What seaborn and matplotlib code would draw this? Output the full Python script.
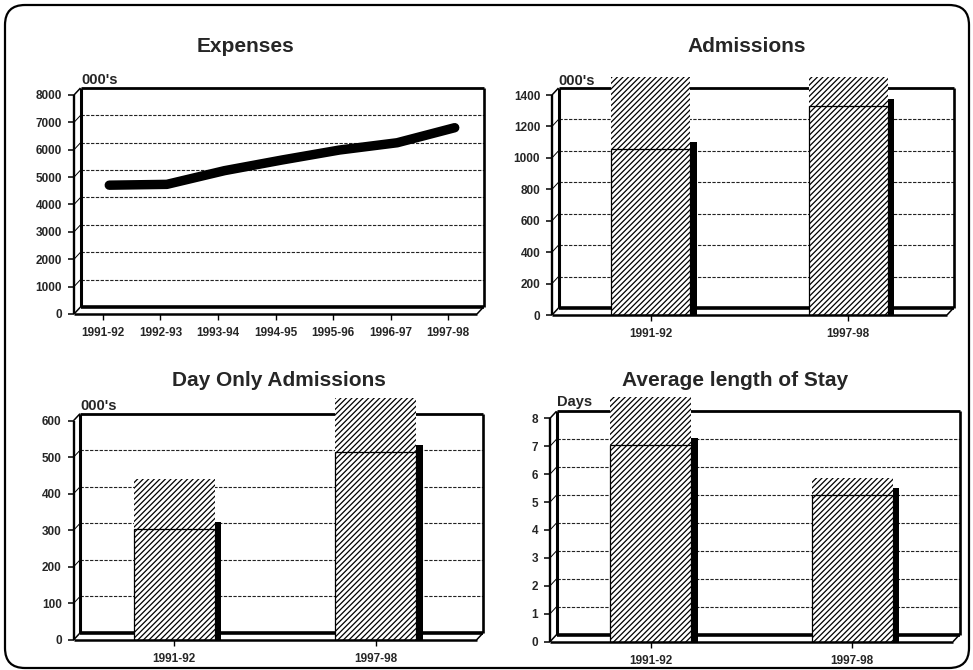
import numpy as np
import matplotlib
matplotlib.use("Agg")
import matplotlib.pyplot as plt
from matplotlib.patches import Rectangle, FancyBboxPatch
from matplotlib.transforms import ScaledTranslation, IdentityTransform
import seaborn as sns

# ---- data -------------------------------------------------------------
years = ["1991-92", "1992-93", "1993-94", "1994-95", "1995-96", "1996-97", "1997-98"]
expenses = [4450, 4480, 4980, 5370, 5735, 6000, 6550]

bar_years = ["1991-92", "1997-98"]
admissions = [1055, 1328]
day_only = [303, 513]
avg_stay = [7.04, 5.26]

# hatched top faces of the 3-D columns (value units)
admissions_top = [470, 200]
day_only_top = [137, 150]
avg_stay_top = [1.8, 0.6]

titles = ["Expenses", "Admissions", "Day Only Admissions", "Average length of Stay"]
unit_labels = ["000's", "000's", "000's", "Days"]
expense_ticks = [0, 1000, 2000, 3000, 4000, 5000, 6000, 7000, 8000]
admission_ticks = [0, 200, 400, 600, 800, 1000, 1200, 1400]
day_only_ticks = [0, 100, 200, 300, 400, 500, 600]
stay_ticks = [0, 1, 2, 3, 4, 5, 6, 7, 8]

# ---- style ------------------------------------------------------------
sns.set_style("white")
plt.rcParams["font.family"] = ["Liberation Sans", "DejaVu Sans"]
plt.rcParams["font.weight"] = "bold"
plt.rcParams["hatch.linewidth"] = 0.9
HATCH = "//////"

W, H = 973, 670
DX, DY = 6.5, 7.0          # depth of the 3-D box, pixels
fig = plt.figure(figsize=(W / 100, H / 100), dpi=100)
fig.patch.set_facecolor("white")


def panel(left, right, y0, ytop, clip, ticks, ncat):
    """Axes whose data frame is the front face of a 3-D box."""
    tmax = ticks[-1]
    ax = fig.add_axes([left / W, (H - y0) / H, (right - left) / W, (y0 - clip) / H])
    ymax = tmax * (y0 - clip) / (y0 - ytop)
    dxd = DX * ncat / (right - left)
    dyd = DY * tmax / (y0 - ytop)
    return ax, ymax, dxd, dyd


def draw_box(ax, ticks, ncat, ymax, dxd, dyd):
    tmax = ticks[-1]
    xmin, xmax = -0.5, ncat - 0.5
    kw = dict(color="black", clip_on=False, solid_capstyle="butt")
    # back wall
    ax.add_patch(Rectangle((xmin + dxd, dyd), xmax - xmin, tmax,
                           facecolor="white", edgecolor="none", zorder=0.5, clip_on=False))
    for t in ticks[1:-1]:
        ax.plot([xmin + dxd, xmax + dxd], [t + dyd, t + dyd], lw=0.8,
                linestyle=(0, (3, 1.3)), color="#222222", zorder=1, clip_on=False)
        ax.plot([xmin, xmin + dxd], [t, t + dyd], lw=0.7, zorder=1, **kw)
    ax.plot([xmin + dxd, xmax + dxd], [tmax + dyd, tmax + dyd], lw=2.0, zorder=1.2, **kw)
    ax.plot([xmin + dxd, xmin + dxd], [dyd, tmax + dyd], lw=2.2, zorder=1.2, **kw)
    ax.plot([xmax + dxd, xmax + dxd], [dyd, tmax + dyd], lw=1.9, zorder=1.2, **kw)
    # left wall
    ax.plot([xmin, xmin], [0, tmax], lw=1.7, zorder=1.3, **kw)
    ax.plot([xmin, xmin + dxd], [tmax, tmax + dyd], lw=1.1, zorder=1.3, **kw)
    # floor
    ax.plot([xmin + dxd, xmax + dxd], [dyd, dyd], lw=2.6, zorder=2, **kw)
    ax.plot([xmin, xmin + dxd], [0, dyd], lw=1.1, zorder=2, **kw)
    ax.plot([xmax, xmax + dxd], [0, dyd], lw=1.1, zorder=2, **kw)
    ax.plot([xmin, xmax], [0, 0], lw=1.8, zorder=4, **kw)

    ax.set_xlim(xmin, xmax)
    ax.set_ylim(0, ymax)
    ax.set_yticks(ticks)
    ax.set_yticklabels([f"{t:g}" for t in ticks])
    ax.set_xlabel("")
    ax.set_ylabel("")
    for s in ax.spines.values():
        s.set_visible(False)
    ax.set_facecolor("none")
    ax.tick_params(axis="y", left=True, direction="out", length=4, width=1.1,
                   pad=4.5, labelsize=8.5, color="black")
    ax.tick_params(axis="x", bottom=True, direction="out", length=4, width=1.0,
                   pad=5.5, labelsize=8.5, color="black")


def column_panel(left, right, y0, ytop, clip, ticks, cats, vals, tops):
    n = len(cats)
    ax, ymax, dxd, dyd = panel(left, right, y0, ytop, clip, ticks, n)
    sns.barplot(x=cats, y=vals, ax=ax, width=0.4, color="white", saturation=1,
                edgecolor="black", linewidth=0.9, hatch=HATCH, errorbar=None, zorder=3)
    pos = np.arange(n)
    # top faces
    ax.bar(pos, tops, bottom=vals, width=0.4, color="white", edgecolor="black",
           linewidth=0, hatch=HATCH, zorder=2.9)
    # dark side faces
    ax.bar(pos + 0.2, [v + dyd for v in vals], width=dxd, align="edge",
           color="black", edgecolor="black", linewidth=0, zorder=3.1)
    draw_box(ax, ticks, n, ymax, dxd, dyd)
    ax.set_xticks(pos)
    ax.set_xticklabels(cats)
    return ax


# ---- Expenses ---------------------------------------------------------
ax1, ymax1, dxd1, dyd1 = panel(74, 477, 314, 95, 80, expense_ticks, len(years))
sns.lineplot(x=years, y=expenses, ax=ax1, color="black", linewidth=6.8, sort=False)
ln = ax1.lines[-1]
ln.set_transform(ax1.transData + ScaledTranslation(DX / 100, DY / 100, fig.dpi_scale_trans))
ln.set_solid_capstyle("round")
ln.set_solid_joinstyle("round")
ln.set_zorder(3)
ln.set_clip_on(False)
draw_box(ax1, expense_ticks, len(years), ymax1, dxd1, dyd1)
ax1.set_xticks(range(len(years)))
ax1.set_xticklabels(years)

# ---- Column panels ----------------------------------------------------
column_panel(552, 947, 315, 95, 76.7, admission_ticks, bar_years, admissions, admissions_top)
column_panel(73.5, 476.5, 640, 420.7, 398, day_only_ticks, bar_years, day_only, day_only_top)
column_panel(550, 953, 641.7, 418.3, 397, stay_ticks, bar_years, avg_stay, avg_stay_top)

# ---- titles and unit labels -------------------------------------------
title_pos = [(245, 46), (747, 46), (279, 380), (735, 380)]
for t, (x, y) in zip(titles, title_pos):
    fig.text(x / W, 1 - y / H, t, ha="center", va="center", fontsize=15, weight="bold")
unit_pos = [(81, 80), (558, 81), (80, 406), (557, 402)]
for t, (x, y) in zip(unit_labels, unit_pos):
    fig.text(x / W, 1 - y / H, t, ha="left", va="center", fontsize=10.5, weight="bold")

# rounded outer border
fig.add_artist(FancyBboxPatch((5, 2), 964, 663, boxstyle="round,pad=0,rounding_size=20",
                              transform=IdentityTransform(), fill=False,
                              edgecolor="black", linewidth=1.6))

fig.savefig("out.png", dpi=100)
